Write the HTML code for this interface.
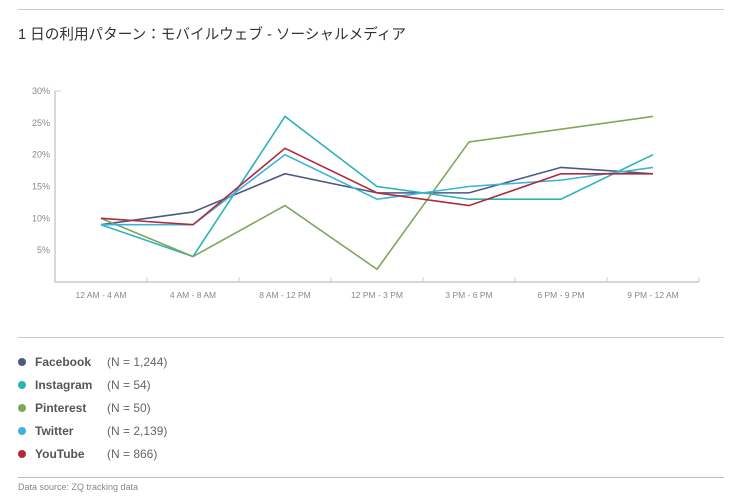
<!DOCTYPE html>
<html><head><meta charset="utf-8"><style>
body{margin:0;background:#fff;width:738px;height:497px;overflow:hidden;font-family:"Liberation Sans","Noto Sans CJK JP",sans-serif}
.t{position:absolute;white-space:nowrap}
</style></head><body>
<div style="position:absolute;left:18px;top:9px;width:706px;height:1px;background:#ccc"></div>
<div class="t" style="left:18px;top:23px;font-size:14.6px;color:#333">1 日の利用パターン：モバイルウェブ - ソーシャルメディア</div>
<svg id="chart" width="738" height="330" style="position:absolute;left:0;top:0"></svg>
<div style="position:absolute;left:18px;top:337px;width:706px;height:1px;background:#ccc"></div>
<div id="legend"></div>
<div style="position:absolute;left:18px;top:477px;width:706px;height:1px;background:#bbb"></div>
<div class="t" style="left:18px;top:482px;font-size:9px;color:#888">Data source: ZQ tracking data</div>
<script>
const categories=["12 AM - 4 AM","4 AM - 8 AM","8 AM - 12 PM","12 PM - 3 PM","3 PM - 6 PM","6 PM - 9 PM","9 PM - 12 AM"];
const yTicks=[5,10,15,20,25,30];
const seriesNames=["Facebook","Instagram","Pinterest","Twitter","YouTube"];
const seriesN=["(N = 1,244)","(N = 54)","(N = 50)","(N = 2,139)","(N = 866)"];
const facebook=[9,11,17,14,14,18,17];
const instagram=[9,4,26,15,13,13,20];
const pinterest=[10,4,12,2,22,24,26];
const twitter=[9,9,20,13,15,16,18];
const youtube=[10,9,21,14,12,17,17];
const seriesValues=[facebook,instagram,pinterest,twitter,youtube];
const colors=["#4b5a82","#2cb3b8","#80a65c","#3cb2de","#b02a3c"];
const NS="http://www.w3.org/2000/svg";
const svg=document.getElementById('chart');
const x0=55,x1=699,y0=282,yTop=91,yMax=30;
const bw=(x1-x0)/categories.length;
const X=i=>x0+bw*(i+0.5);
const Y=v=>y0-(v/yMax)*(y0-yTop);
function mk(t,a){const e=document.createElementNS(NS,t);for(const k in a)e.setAttribute(k,a[k]);svg.appendChild(e);return e;}
let ax=mk('path',{d:`M${x0},${yTop} V${y0} H${x1}`,fill:'none',stroke:'#ccc','stroke-width':1.5});


for(let i=1;i<=categories.length;i++){
 const tk=mk('line',{x1:x0+bw*i,x2:x0+bw*i,y1:y0-5,y2:y0,stroke:'#ccc','stroke-width':1});
 
 }
mk('line',{x1:x0,x2:x0+6,y1:yTop,y2:yTop,stroke:'#ccc'});
categories.forEach((c,i)=>{const t=mk('text',{x:X(i),y:y0+16,'text-anchor':'middle','font-size':8.5,fill:'#888'});t.textContent=c;
 
 });
yTicks.forEach(v=>{const t=mk('text',{x:x0-5,y:Y(v)+3,'text-anchor':'end','font-size':9,fill:'#888'});t.textContent=v+'%';
 
 });
seriesValues.forEach((vals,s)=>{const p=mk('polyline',{points:vals.map((v,i)=>X(i)+','+Y(v)).join(' '),fill:'none',stroke:colors[s],'stroke-width':1.6});
 
 });
const lg=document.getElementById('legend');
seriesNames.forEach((n,i)=>{const cy=362+23*i;
 const d=document.createElement('div');d.style.cssText=`position:absolute;left:18px;top:${cy-4}px;width:8px;height:8px;border-radius:50%;background:${colors[i]}`;
 
 lg.appendChild(d);
 const a=document.createElement('div');a.className='t';a.style.cssText=`left:35px;top:${cy-7}px;font-size:12px;font-weight:bold;color:#555`;a.textContent=n;
 
 lg.appendChild(a);
 const b=document.createElement('div');b.className='t';b.style.cssText=`left:107px;top:${cy-7}px;font-size:12px;color:#666`;b.textContent=seriesN[i];
 
 lg.appendChild(b);});
</script>
</body></html>
